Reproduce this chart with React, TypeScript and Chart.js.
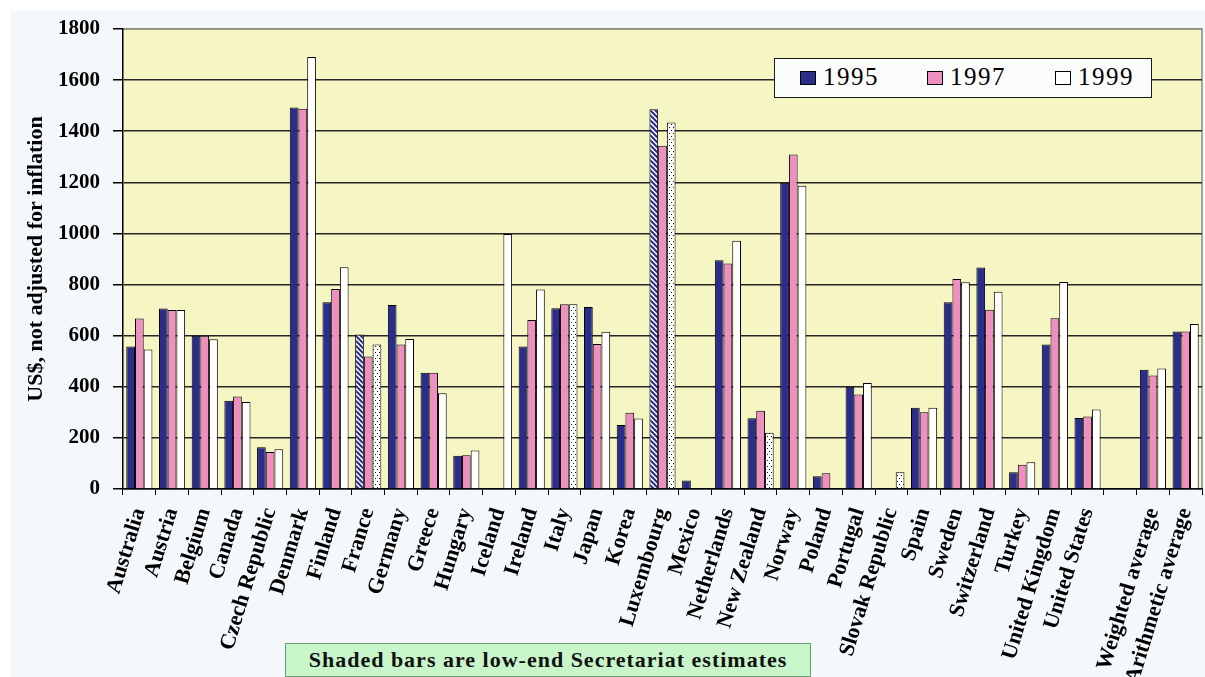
import React, { useEffect, useRef } from 'react';
import { Chart, registerables } from 'chart.js';

Chart.register(...registerables);

const categories = [
  'Australia', 'Austria', 'Belgium', 'Canada', 'Czech Republic', 'Denmark', 'Finland', 'France',
  'Germany', 'Greece', 'Hungary', 'Iceland', 'Ireland', 'Italy', 'Japan', 'Korea', 'Luxembourg',
  'Mexico', 'Netherlands', 'New Zealand', 'Norway', 'Poland', 'Portugal', 'Slovak Republic', 'Spain',
  'Sweden', 'Switzerland', 'Turkey', 'United Kingdom', 'United States', '', 'Weighted average',
  'Arithmetic average',
];

const values1995 = [558, 706, 600, 345, 163, 1493, 731, 605, 720, 455, 130, null, 558, 707, 712, 250, 1486, 33, 895, 277, 1198, 50, 400, null, 318, 731, 867, 66, 565, 278, null, 467, 616];
const values1997 = [667, 700, 600, 362, 145, 1488, 783, 518, 565, 455, 132, null, 661, 723, 567, 298, 1343, null, 882, 306, 1309, 62, 370, null, 300, 822, 701, 95, 668, 284, null, 444, 616];
const values1999 = [546, 700, 586, 340, 156, 1690, 868, 565, 587, 375, 151, 998, 781, 723, 615, 276, 1434, null, 971, 220, 1187, null, 415, 66, 318, 809, 772, 105, 810, 311, null, 472, 646];

// Shaded (low-end Secretariat estimate) bars
const shaded1995 = ['France', 'Luxembourg'];
const shaded1997: string[] = [];
const shaded1999 = ['France', 'Italy', 'Luxembourg', 'New Zealand', 'Slovak Republic'];

const seriesLabels = ['1995', '1997', '1999'];
const yTicks = [0, 200, 400, 600, 800, 1000, 1200, 1400, 1600, 1800];

const BLUE = '#2c2c8c';
const PINK = '#ef8fc1';
const WHITE = '#ffffff';
const PLOT_BG = '#f6f6c4';
const SERIF = "'Liberation Serif', 'Times New Roman', serif";

function makeHatch(): CanvasPattern | string {
  const c = document.createElement('canvas');
  c.width = 5;
  c.height = 5;
  const g = c.getContext('2d');
  if (!g) return BLUE;
  g.fillStyle = '#ffffff';
  g.fillRect(0, 0, 5, 5);
  g.strokeStyle = BLUE;
  g.lineWidth = 2;
  g.beginPath();
  g.moveTo(-1, -1); g.lineTo(6, 6);
  g.moveTo(-1, 4); g.lineTo(1, 6);
  g.moveTo(4, -1); g.lineTo(6, 1);
  g.stroke();
  return g.createPattern(c, 'repeat') || BLUE;
}

function makeDots(): CanvasPattern | string {
  const c = document.createElement('canvas');
  c.width = 4;
  c.height = 6;
  const g = c.getContext('2d');
  if (!g) return WHITE;
  g.fillStyle = '#ffffff';
  g.fillRect(0, 0, 4, 6);
  g.fillStyle = '#111111';
  g.fillRect(1, 1, 1, 1);
  g.fillRect(3, 4, 1, 1);
  return g.createPattern(c, 'repeat') || WHITE;
}

const plotBgPlugin = {
  id: 'plotBg',
  beforeDraw(chart: any) {
    const { ctx, chartArea } = chart;
    if (!chartArea) return;
    ctx.save();
    ctx.fillStyle = PLOT_BG;
    ctx.fillRect(chartArea.left, chartArea.top, chartArea.right - chartArea.left, chartArea.bottom - chartArea.top);
    ctx.strokeStyle = '#8c8c80';
    ctx.lineWidth = 1.5;
    ctx.beginPath();
    ctx.moveTo(chartArea.left, chartArea.top);
    ctx.lineTo(chartArea.right, chartArea.top);
    ctx.lineTo(chartArea.right, chartArea.bottom);
    ctx.stroke();
    ctx.restore();
  },
};

export default function App() {
  const canvasRef = useRef<HTMLCanvasElement>(null);

  useEffect(() => {
    if (!canvasRef.current) return;
    const hatch = makeHatch();
    const dots = makeDots();
    const bg1995 = categories.map((c) => (shaded1995.includes(c) ? hatch : BLUE));
    const bg1997 = categories.map((c) => (shaded1997.includes(c) ? hatch : PINK));
    const bg1999 = categories.map((c) => (shaded1999.includes(c) ? dots : WHITE));

    const common = {
      borderColor: '#000000',
      borderWidth: 1,
      categoryPercentage: 0.8,
      barPercentage: 1.0,
    };

    const chart = new Chart(canvasRef.current, {
      type: 'bar',
      data: {
        labels: categories,
        datasets: [
          { label: seriesLabels[0], data: values1995, backgroundColor: bg1995, ...common },
          { label: seriesLabels[1], data: values1997, backgroundColor: bg1997, ...common },
          { label: seriesLabels[2], data: values1999, backgroundColor: bg1999, ...common },
        ],
      } as any,
      options: {
        animation: false,
        responsive: true,
        maintainAspectRatio: false,
        layout: { padding: { left: 10, top: 29, right: 3, bottom: 0 } },
        plugins: {
          legend: { display: false },
          tooltip: { enabled: false },
        },
        scales: {
          x: {
            type: 'category',
            offset: true,
            grid: {
              display: true,
              drawOnChartArea: false,
              drawTicks: true,
              tickLength: 6,
              offset: true,
              color: '#000000',
              tickColor: '#000000',
            },
            border: { display: true, color: '#000000', width: 1.5 },
            ticks: {
              autoSkip: false,
              maxRotation: 73,
              minRotation: 73,
              padding: 10,
              color: '#000000',
              font: { family: SERIF, size: 22, weight: 'bold' },
            },
            afterFit: (scale: any) => {
              scale.height = 188;
              scale.paddingLeft = 0;
              scale.paddingRight = 0;
            },
          },
          y: {
            min: 0,
            max: 1800,
            afterBuildTicks: (scale: any) => {
              scale.ticks = yTicks.map((v) => ({ value: v }));
            },
            grid: {
              color: (c: any) => (c.tick && c.tick.value === 1800 ? '#8c8c80' : '#262626'),
              lineWidth: 1.5,
              tickLength: 10,
              tickColor: '#000000',
            },
            border: { display: true, color: '#000000', width: 1.5 },
            ticks: {
              padding: 13,
              color: '#000000',
              font: { family: SERIF, size: 21, weight: 'bold' },
              callback: (v: any) => String(v),
            },
            title: {
              display: true,
              text: 'US$, not adjusted for inflation',
              color: '#000000',
              font: { family: SERIF, size: 22, weight: 'bold' },
              padding: { top: 13, bottom: 0 },
            },
            afterFit: (scale: any) => {
              scale.width = 113;
              scale.paddingTop = 0;
              scale.paddingBottom = 0;
            },
          },
        },
      } as any,
      plugins: [plotBgPlugin],
    });

    return () => chart.destroy();
  }, []);

  const legendItems = [
    { label: seriesLabels[0], color: BLUE, boxLeft: 25, textLeft: 48 },
    { label: seriesLabels[1], color: PINK, boxLeft: 152, textLeft: 175 },
    { label: seriesLabels[2], color: WHITE, boxLeft: 280, textLeft: 303 },
  ];

  return (
    <div style={{ position: 'fixed', left: 0, top: 0, width: 1205, height: 677, background: '#ffffff', overflow: 'hidden' }}>
      <div style={{ position: 'absolute', left: 10, top: 11, right: 0, bottom: 0, background: '#f4f8fa' }} />
      <div style={{ position: 'absolute', left: 0, top: 0, width: 1205, height: 677 }}>
        <canvas ref={canvasRef} />
      </div>
      <div
        style={{
          position: 'absolute', left: 774, top: 58, width: 376, height: 38,
          background: '#fafcfc', border: '1.5px solid #1a1a1a',
        }}
      >
        {legendItems.map((it) => (
          <React.Fragment key={it.label}>
            <div
              style={{
                position: 'absolute', left: it.boxLeft, top: 12, width: 16, height: 14,
                background: it.color, border: '1px solid #000', boxSizing: 'border-box',
              }}
            />
            <div
              style={{
                position: 'absolute', left: it.textLeft, top: 3, fontFamily: SERIF, fontSize: 25,
                lineHeight: '30px', color: '#000', letterSpacing: '1.5px',
              }}
            >
              {it.label}
            </div>
          </React.Fragment>
        ))}
      </div>
      <div
        style={{
          position: 'absolute', left: 285, top: 643, width: 524, height: 32,
          background: '#c8f5c9', border: '1px solid #6a9c78', display: 'flex',
          alignItems: 'center', justifyContent: 'center', fontFamily: SERIF, fontWeight: 'bold',
          fontSize: 22, letterSpacing: '1px', color: '#111', whiteSpace: 'nowrap',
        }}
      >
        Shaded bars are low-end Secretariat estimates
      </div>
    </div>
  );
}
